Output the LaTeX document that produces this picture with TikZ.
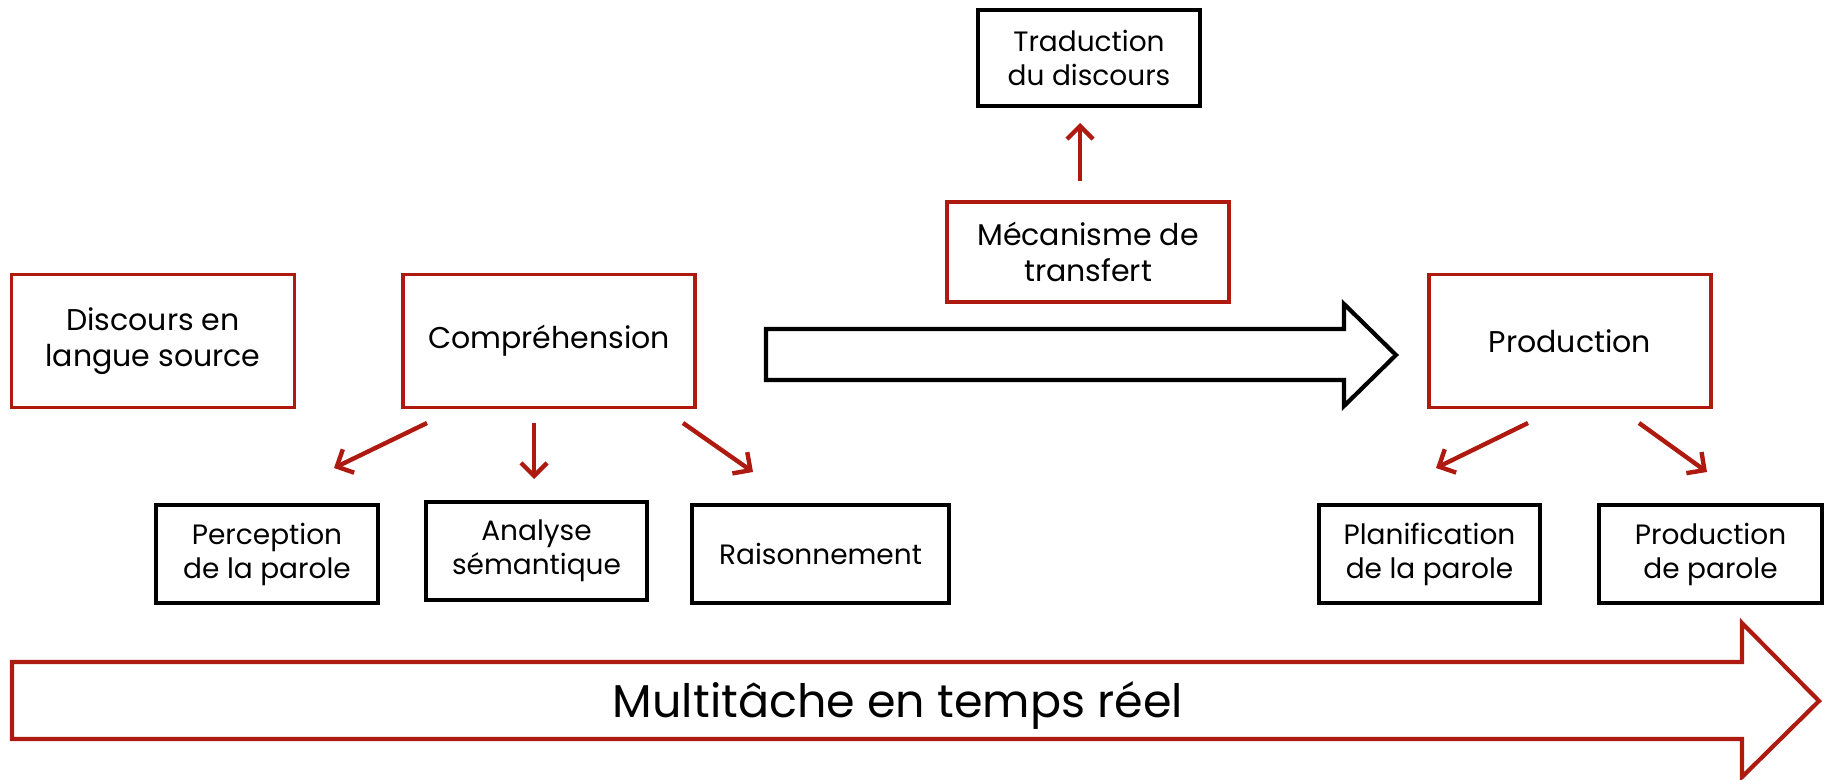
\documentclass[tikz,border=0pt]{standalone}
\usepackage{fontspec}
\setmainfont{Poppins}
\usetikzlibrary{arrows.meta}
\definecolor{dred}{RGB}{175,26,16}
\tikzset{
  redbox/.style={draw=dred, line width=3.6pt, rectangle, align=center, font=\fontsize{30}{36}\selectfont, inner sep=0pt},
  blackbox/.style={draw=black, line width=4.6pt, rectangle, align=center, font=\fontsize{28}{34}\selectfont, inner sep=0pt},
  redarrow/.style={draw=dred, line width=4.4pt, -{Straight Barb[length=13pt,width=26pt,line width=4.4pt]}},
}
\begin{document}
\begin{tikzpicture}[x=1pt,y=-1pt]
\useasboundingbox (0,0) rectangle (1825,779);
% top row boxes
\node[redbox, minimum width=283pt, minimum height=133pt] (src) at (153,341) {Discours en\\langue source};
\node[redbox, minimum width=292pt, minimum height=133pt] (comp) at (549,341) {Compréhension};
\node[redbox, minimum width=282pt, minimum height=100pt] (mec) at (1088,252) {Mécanisme de\\transfert};
\node[blackbox, minimum width=222pt, minimum height=96pt] (trad) at (1089,58) {Traduction\\du discours};
\node[redbox, minimum width=282pt, minimum height=133pt] (prod) at (1570,341) {Production};
% bottom boxes
\node[blackbox, minimum width=222pt, minimum height=98pt] (perc) at (267,554) {Perception\\de la parole};
\node[blackbox, minimum width=221pt, minimum height=98pt] (anal) at (536.5,551) {Analyse\\sémantique};
\node[blackbox, minimum width=257pt, minimum height=98pt] (rais) at (820.5,554) {Raisonnement};
\node[blackbox, minimum width=221pt, minimum height=98pt] (plan) at (1429.5,554) {Planification\\de la parole};
\node[blackbox, minimum width=223pt, minimum height=98pt] (prodp) at (1710.5,554) {Production\\de parole};
% arrow endpoints
\coordinate (c1s) at (427,423); \coordinate (c1e) at (334,468);
\coordinate (c2s) at (534,423); \coordinate (c2e) at (534,479);
\coordinate (c3s) at (683,423); \coordinate (c3e) at (753,472);
\coordinate (p1s) at (1528,423); \coordinate (p1e) at (1436,468);
\coordinate (p2s) at (1639,423); \coordinate (p2e) at (1707,472);
\coordinate (ms) at (1080,181); \coordinate (me) at (1080,123);
\draw[redarrow] (c1s) -- (c1e);
\draw[redarrow] (c2s) -- (c2e);
\draw[redarrow] (c3s) -- (c3e);
\draw[redarrow] (p1s) -- (p1e);
\draw[redarrow] (p2s) -- (p2e);
\draw[redarrow] (ms) -- (me);
% big black block arrow
\draw[line width=4.2pt, line join=miter, fill=white]
  (766,329) -- (1344,329) -- (1344,304) -- (1396,355) -- (1344,406) -- (1344,380) -- (766,380) -- cycle;
% multitask arrow
\draw[draw=dred, line width=4.2pt, line join=miter, fill=white]
  (12,662) -- (1742,662) -- (1742,623) -- (1819,701) -- (1742,777) -- (1742,739) -- (12,739) -- cycle;
\node[font=\fontsize{46}{52}\selectfont] (mt) at (898,705) {Multitâche en temps réel};
\end{tikzpicture}
\end{document}
